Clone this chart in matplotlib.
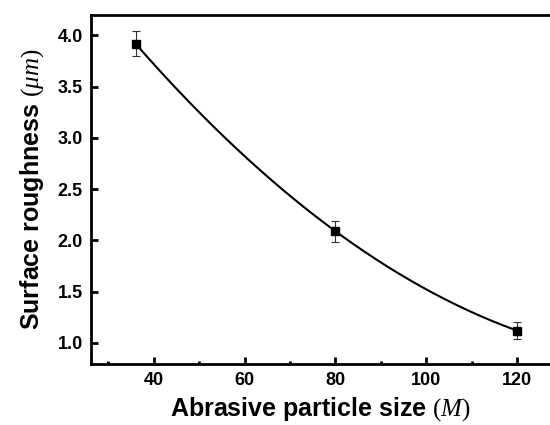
import matplotlib
matplotlib.use('Agg')
import matplotlib.pyplot as plt
from matplotlib.ticker import MultipleLocator
import numpy as np

plt.rcParams['font.family'] = 'Liberation Sans'
plt.rcParams['mathtext.fontset'] = 'custom'
plt.rcParams['mathtext.it'] = 'Liberation Serif:italic'
plt.rcParams['mathtext.rm'] = 'Liberation Serif'

particle_size = [36, 80, 120]
roughness = [3.92, 2.09, 1.12]
roughness_err = [0.12, 0.10, 0.08]

fig = plt.figure(figsize=(5.5, 4.25), dpi=100)
ax = fig.add_axes([91 / 550, 1 - 364 / 425, 1 - 91 / 550, 349 / 425])

# smooth fit curve through the points
coef = np.polyfit(particle_size, roughness, 2)
xs = np.linspace(min(particle_size), max(particle_size), 200)
ax.plot(xs, np.polyval(coef, xs), color='black', lw=1.5)

ax.errorbar(particle_size, roughness, yerr=roughness_err, fmt='s', color='black',
            ms=6, ecolor='#333333', elinewidth=0.8, capsize=3, capthick=0.8)

ax.set_xlim(26.2, 127.2)
ax.set_ylim(0.795, 4.2)
ax.xaxis.set_major_locator(MultipleLocator(20))
ax.xaxis.set_minor_locator(MultipleLocator(10))
ax.yaxis.set_major_locator(MultipleLocator(0.5))

for s in ['left', 'bottom', 'top']:
    ax.spines[s].set_linewidth(2)
ax.spines['right'].set_visible(False)
ax.tick_params(which='major', direction='in', length=5, width=2, labelsize=13,
               pad=6, top=False, right=False)
ax.tick_params(which='minor', direction='in', length=2, width=2, top=False, right=False)
for lab in ax.get_xticklabels() + ax.get_yticklabels():
    lab.set_fontweight('bold')

ax.set_xlabel(r'Abrasive particle size $(M)$', fontsize=18, fontweight='bold', labelpad=4)
ax.set_ylabel(r'Surface roughness $(\mu m)$', fontsize=18, fontweight='bold', labelpad=8)

fig.savefig('out.png', dpi=100)
